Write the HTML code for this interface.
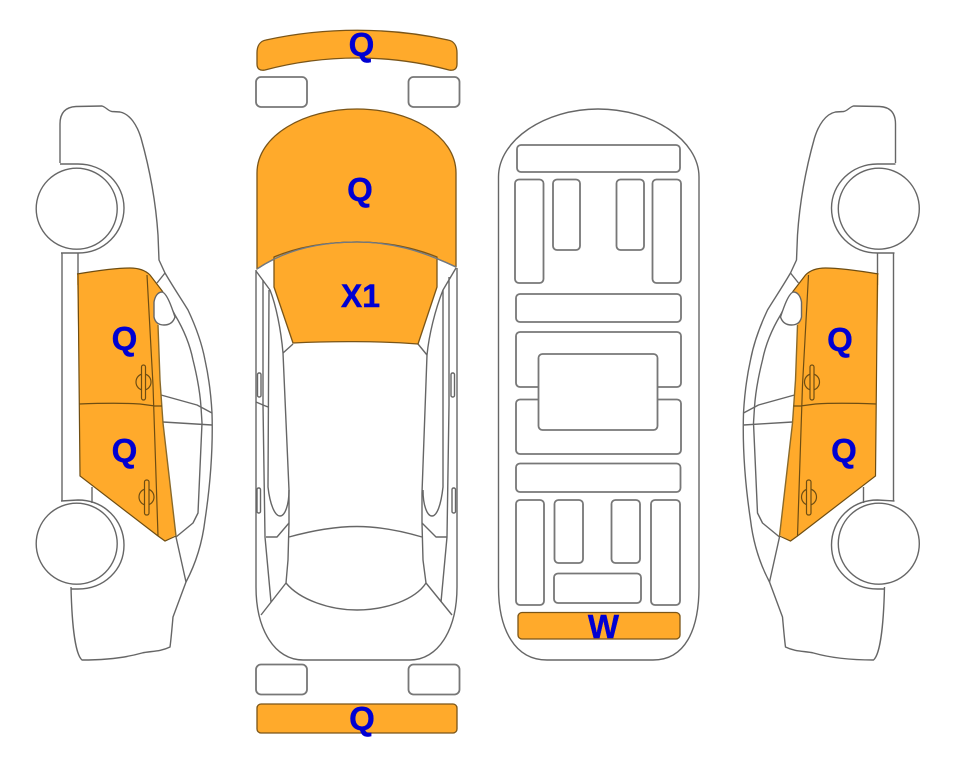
<!DOCTYPE html>
<html><head><meta charset="utf-8">
<style>
html,body{margin:0;padding:0;background:#fff}
svg{display:block;filter:blur(0.35px)}
text{font-family:"Liberation Sans",Arial,sans-serif;font-weight:bold;font-size:33px;fill:#0000d2;stroke:#0000d2;stroke-width:.4;text-anchor:middle}
.l{fill:none;stroke:#666;stroke-width:1.4;stroke-linejoin:round}
.w{fill:#fff;stroke:#666;stroke-width:1.4}
.r{fill:#fff;stroke:#777;stroke-width:1.8}
.o{fill:#ffaa2b;stroke:#7a5518;stroke-width:1.3;stroke-linejoin:round}
.d{fill:none;stroke:#6e4d12;stroke-width:1.2}
</style></head>
<body>
<svg width="963" height="768" viewBox="0 0 963 768" xmlns="http://www.w3.org/2000/svg">
<defs>
<g id="side">
  <!-- body outline -->
  <path class="l" d="M60 163 L60 124 C60 112 66 107 76 106.500 L102 106 C106 107 108 111 112 111.500 L120 112 C130 114 137 125 141 138 C150 170 156 205 158 235 L159 260 L165 273 C175 290 182 300 188 310 C196 327 202 344 205 360 C209 378 211 395 212 413 C213 445 211 480 205 520 C202 545 195 565 186 582 L173 617 C172 628 171 640 170 647 C160 652 150 651 142 653 C128 657 110 660 82 660 C76 655 72 630 71 587"/>
  <!-- windshield inner -->
  <path class="l" d="M163 293 L175 315 C184 330 190 345 193 360 C197 376 200 392 201 407 L202 423 L198 513 L193 523 L176 537 L186 582"/>
  <path class="l" d="M165 273 L157 283"/>
  <!-- sills -->
  <path class="l" d="M62 253 L62 501 M78 253 L78 285 M92 487 L92 503"/>
  <path class="l" d="M161 395 L197 405 L212 413 M163 422 L212 425"/>
  <!-- arches -->
  <path class="l" d="M60 164 L78 164 C104 164 124 184 124 208 C124 233 104 253 78 253 L61 253"/>
  <path class="l" d="M61 501 L78 500 C104 500 124 520 124 545 C124 570 104 589 78 589 L71 589"/>
  <circle class="w" cx="76.700" cy="208.700" r="40.500"/>
  <circle class="w" cx="76.700" cy="543.700" r="40.500"/>
  <!-- door panel -->
  <path class="o" d="M77 274 C95 271 115 268 130 268 C140 268 146 271 150 275 L163 292 L158 325 L160 380 L163 423 L176 535 L165 541 L158 536 L80 476 L79 380 Z" style="stroke:none"/>
  <path class="d" d="M77 274 C95 271 115 268 130 268 C140 268 146 271 150 275 L163 292 M78 274 L80 476 L158 536 L165 541 L176 536"/>
  <path class="l" d="M158 325 L160 380 L163 423 L176 536" style="stroke:#8a6a2a"/>
  <path class="d" d="M147 275 L153 385 L158 536 M79 404 C105 403 125 403 140 404 L155 406 L162 406"/>
  <!-- mirror -->
  <path class="w" d="M154 302 C155 296 158 292 162 292 C167 293 172 308 175 317 C173 323 169 325 164 325 C158 325 155 322 154 317 Z"/>
  <!-- handles -->
  <ellipse class="d" cx="143.500" cy="382" rx="7.500" ry="8"/>
  <rect class="d" x="141.500" y="365" width="4" height="35" rx="2" style="fill:#ffaa2b"/>
  <ellipse class="d" cx="146.500" cy="497" rx="7.500" ry="8"/>
  <rect class="d" x="144.500" y="480" width="4.500" height="35" rx="2" style="fill:#ffaa2b"/>
</g>
</defs>

<use href="#side"/>
<use href="#side" transform="translate(955.5 0) scale(-1 1)"/>

<!-- centre car -->
<path class="l" d="M256 270 L256 587 C256 630 275 660 303 660 L410 660 C438 660 457 630 457 587 L457 268"/>
<path class="o" d="M257 53 C257 46 260 41 266 40 C325 27 390 27 448 40 C454 41 457 46 457 53 L457 64 C457 69 454 71 449 70 C390 54 325 54 265 70 C260 71 257 69 257 64 Z"/>
<rect class="r" x="256" y="77" width="51" height="30" rx="5"/>
<rect class="r" x="408.500" y="77" width="51" height="30" rx="5"/>
<rect class="r" x="256" y="664.500" width="51" height="30" rx="5"/>
<rect class="r" x="408.500" y="664.500" width="51" height="30" rx="5"/>
<rect class="o" x="257" y="704" width="200" height="29" rx="4"/>

<path class="l" d="M263 280 L263 405 L265 537 L271 602 M269 290 L268 487 C270 505 275 516 280 516 C285 516 289 505 289 490"/>
<path class="l" d="M449 277 L449 405 L447 537 L441 602 M443 290 L443 487 C441 505 437 516 432 516 C427 516 423 505 423 490"/>
<path class="l" d="M256 271 L270 290 C276 305 281 330 283 353 L289 490 L289 523 L288 560 L286 583 L261 615"/>
<path class="l" d="M456 268 L443 290 C435 310 429 335 427 355 L422 493 L422 523 L423 560 L426 583 L452 615"/>
<path class="l" d="M283 353 L293 344 M418 344 L427 355"/>
<path class="l" d="M256 402 L263 405 L268 407 M266 537 L277 537 L289 523 M447 537 L436 537 L422 523"/>
<path class="l" d="M289 537 C340 523 375 523 422 537 M286 583 C300 600 330 610 357 610 C385 610 415 600 426 583"/>
<rect class="l" x="257.500" y="373" width="3.500" height="24" rx="1.500"/>
<rect class="l" x="451" y="373" width="3.500" height="24" rx="1.500"/>
<rect class="l" x="257" y="488" width="3.500" height="25" rx="1.500"/>
<rect class="l" x="452" y="488" width="3.500" height="25" rx="1.500"/>

<path class="o" d="M257 173 C257 135 305 109 357 109 C409 109 456 135 456 173 L456 267 C420 250 390 242 357 242 C320 242 285 250 257 269 Z"/>
<path class="o" d="M274 257 C300 246 330 242 357 242 C385 242 412 247 437 257 L437 287 L418 344 C380 341 330 341 293 343 L274 287 Z"/>
<path d="M257 269 C285 250 320 242 357 242 C390 242 420 250 456 267" fill="none" stroke="#6f7a88" stroke-width="1.3"/>

<!-- underbody -->
<path class="l" d="M498.500 177 C498.500 140 545 109 598 109 C652 109 699 140 699 177 L699 587 C699 630 685 660 653 660 L547 660 C515 660 498.500 630 498.500 587 Z"/>
<rect class="r" x="517" y="145" width="163" height="27" rx="4"/>
<rect class="r" x="515" y="179.500" width="28.500" height="103.500" rx="4"/>
<rect class="r" x="553" y="179.500" width="27" height="70.500" rx="4"/>
<rect class="r" x="616.500" y="179.500" width="27.500" height="70.500" rx="4"/>
<rect class="r" x="652.500" y="179.500" width="28.500" height="103.500" rx="4"/>
<rect class="r" x="516" y="294" width="165" height="28" rx="4"/>
<rect class="r" x="516" y="332" width="165" height="55" rx="4"/>
<rect class="r" x="516" y="399.500" width="165" height="54.500" rx="4"/>
<rect class="r" x="538.500" y="354" width="119" height="76" rx="4"/>
<rect class="r" x="516" y="463.500" width="164.500" height="28.500" rx="4"/>
<rect class="r" x="516" y="500" width="28" height="105" rx="4"/>
<rect class="r" x="554.500" y="500" width="28.500" height="63" rx="4"/>
<rect class="r" x="611.500" y="500" width="28.500" height="63" rx="4"/>
<rect class="r" x="651" y="500" width="29" height="105" rx="4"/>
<rect class="r" x="554" y="573.500" width="87" height="29.500" rx="4"/>
<rect class="o" x="518" y="612.500" width="162" height="26.500" rx="4"/>

<text x="361.500" y="56">Q</text>
<text x="360" y="201">Q</text>
<text x="360.500" y="307" style="font-size:32px">X1</text>
<text x="362" y="730">Q</text>
<text x="603.500" y="638">W</text>
<text x="124.500" y="350">Q</text>
<text x="124.500" y="462">Q</text>
<text x="840" y="351">Q</text>
<text x="844" y="462">Q</text>
</svg>
</body></html>
